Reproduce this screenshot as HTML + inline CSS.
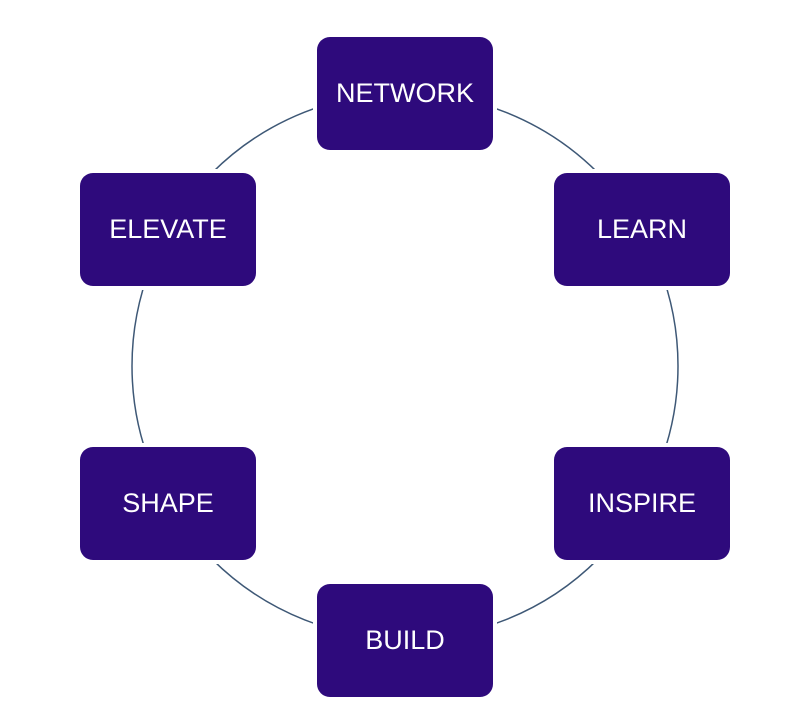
<!DOCTYPE html>
<html><head><meta charset="utf-8"><style>
body{margin:0;width:800px;height:725px;background:#fff;position:relative;overflow:hidden;font-family:"Liberation Sans",sans-serif}
.b{position:absolute;width:176px;height:113px;background:#2e0a7c;border-radius:13px;color:#fff;font-size:27px;display:flex;align-items:center;justify-content:center;box-shadow:0 0 0 4px #fff}
</style></head><body>
<svg width="800" height="725" style="position:absolute;left:0;top:0"><circle cx="405" cy="366" r="273" fill="none" stroke="#3e5876" stroke-width="1.5"/></svg>
<div class="b" style="left:317px;top:37px">NETWORK</div>
<div class="b" style="left:554px;top:173px">LEARN</div>
<div class="b" style="left:554px;top:447px">INSPIRE</div>
<div class="b" style="left:317px;top:584px">BUILD</div>
<div class="b" style="left:80px;top:447px">SHAPE</div>
<div class="b" style="left:80px;top:173px">ELEVATE</div>
</body></html>
